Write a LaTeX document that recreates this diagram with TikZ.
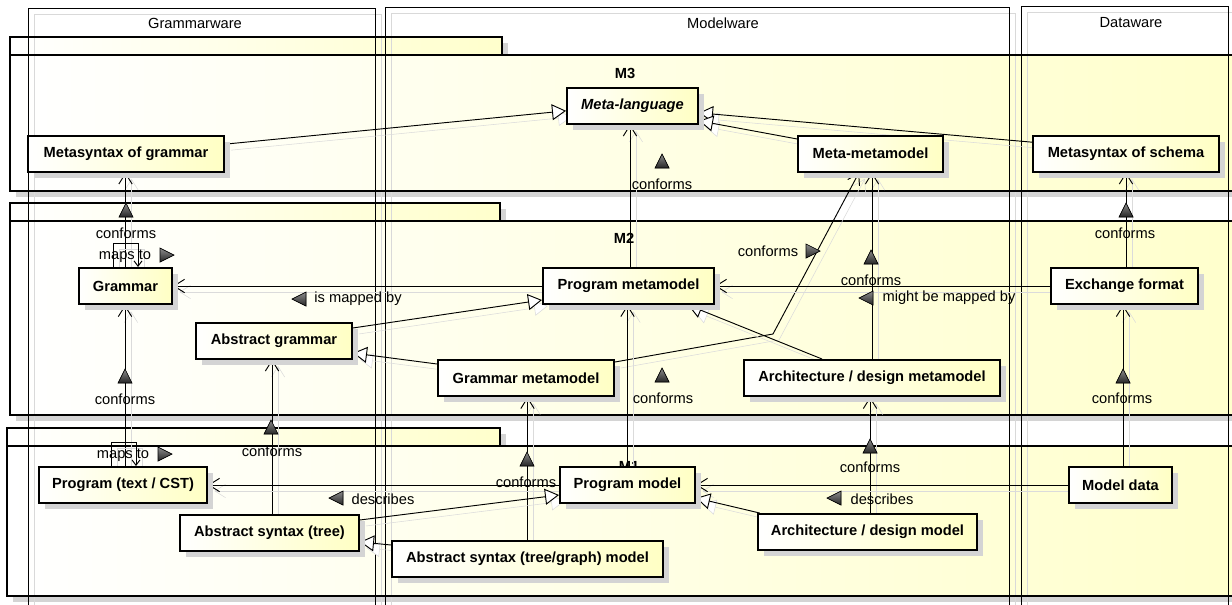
\documentclass[tikz,border=0pt]{standalone}
\usepackage{fontspec}
\setmainfont{Liberation Sans}
\usetikzlibrary{arrows.meta,shadows}
\definecolor{boxyel}{RGB}{255,255,196}
\definecolor{pkgyel}{RGB}{255,255,204}
\definecolor{shd}{RGB}{212,212,212}
\pgfdeclarelayer{back}
\pgfdeclarelayer{mid}
\pgfsetlayers{back,mid,main}
\begin{document}
\begin{tikzpicture}[x=0.75pt,y=-0.75pt,
  txt/.style={font=\fontsize{11}{13}\selectfont, inner sep=0pt},
  ttl/.style={font=\fontsize{11}{13}\selectfont\bfseries, inner sep=0pt},
  box/.style={draw=black, line width=1.5pt, left color=white, right color=boxyel,
     font=\fontsize{11}{13}\selectfont\bfseries, minimum height=27pt, inner sep=0pt,
     general shadow={fill=shd, shadow xshift=4.5pt, shadow yshift=-4.5pt}},
  con/.style={line width=0.7pt, preaction={draw=black!14, transform canvas={xshift=4.5pt,yshift=-4.5pt}}},
  dep/.style={con, -{Straight Barb[length=8pt,width=10pt]}},
  gen/.style={con, -{Triangle[open,length=10.5pt,width=12pt,fill=white]}},
  loopdep/.style={con, -{Straight Barb[length=4pt,width=6pt]}},
  pkg/.style={left color=white, right color=pkgyel},
  pkgborder/.style={draw=black, line width=1.5pt},
  part/.style={draw=black, line width=0.6pt},
  partshadow/.style={draw=black!15, line width=0.6pt},
  triup/.pic={\filldraw[draw=black, line width=0.5pt, top color=black!45, bottom color=black!85] (0,-8)--(7,6)--(-7,6)--cycle;},
  triright/.pic={\filldraw[draw=black, line width=0.5pt, top color=black!45, bottom color=black!85] (8,0)--(-6,-7)--(-6,7)--cycle;},
  trileft/.pic={\filldraw[draw=black, line width=0.5pt, top color=black!45, bottom color=black!85] (-8,0)--(6,-7)--(6,7)--cycle;},
]
\useasboundingbox (0,0) rectangle (1232,604);
\clip (0,0) rectangle (1232,604);

\begin{pgfonlayer}{back}
\fill[white] (0,0) rectangle (1232,604);
% package shadows
\fill[shd] (16,43) rectangle (508,61);
\fill[shd] (16,61) rectangle (1251,197);
\fill[shd] (16,209) rectangle (506,227);
\fill[shd] (16,227) rectangle (1251,421);
\fill[shd] (13,434) rectangle (506,452);
\fill[shd] (13,452) rectangle (1251,602);
% package fills
\shade[pkg] (10,37) rectangle (502,55);
\shade[pkg] (10,55) rectangle (1245,191);
\shade[pkg] (10,203) rectangle (500,221);
\shade[pkg] (10,221) rectangle (1245,415);
\shade[pkg] (7,428) rectangle (500,446);
\shade[pkg] (7,446) rectangle (1245,596);
% partitions
\draw[partshadow] (34,14) rectangle (381,630);
\draw[partshadow] (391,13) rectangle (1015,630);
\draw[partshadow] (1027,12) rectangle (1234,630);
\draw[part] (28,8) rectangle (375,620);
\draw[part] (385,7) rectangle (1009,620);
\draw[part] (1021,6) rectangle (1228,620);
\node[txt] (tgw) at (195,23) {Grammarware};
\node[txt] (tmw) at (723,23) {Modelware};
\node[txt] (tdw) at (1131,23) {Dataware};
% package borders
\draw[pkgborder] (10,37) rectangle (502,55);
\draw[pkgborder] (10,55) rectangle (1245,191);
\draw[pkgborder] (10,203) rectangle (500,221);
\draw[pkgborder] (10,221) rectangle (1245,415);
\draw[pkgborder] (7,428) rectangle (500,446);
\draw[pkgborder] (7,446) rectangle (1245,596);
\node[ttl] (m3) at (625,73) {M3};
\node[ttl] (m2) at (624,238) {M2};
\node[ttl] (m1) at (629,466) {M1};
\end{pgfonlayer}

% nodes
\node[box, minimum width=98.25pt, font=\fontsize{11}{13}\selectfont\bfseries\itshape] (ml) at (632.5,105.5) {Meta-language};
\node[box, minimum width=147pt] (msg) at (126,153.5) {Metasyntax of grammar};
\node[box, minimum width=108.75pt] (mmm) at (870.5,153.5) {Meta-metamodel};
\node[box, minimum width=139.5pt] (mss) at (1126,153.5) {Metasyntax of schema};
\node[box, minimum width=69.75pt] (gram) at (125.5,286) {Grammar};
\node[box, minimum width=128.25pt] (pm) at (628.5,286) {Program metamodel};
\node[box, minimum width=110.25pt] (ef) at (1124.5,286) {Exchange format};
\node[box, minimum width=117pt] (ag) at (274,340.5) {Abstract grammar};
\node[box, minimum width=132pt] (gm) at (526,378) {Grammar metamodel};
\node[box, minimum width=192pt] (adm) at (872,378) {Architecture / design metamodel};
\node[box, minimum width=126pt] (ptext) at (123,485) {Program (text / CST)};
\node[box, minimum width=101.25pt] (pmod) at (627.5,485) {Program model};
\node[box, minimum width=77.25pt] (md) at (1120.5,485) {Model data};
\node[box, minimum width=134.25pt] (ast) at (269.5,532.5) {Abstract syntax (tree)};
\node[box, minimum width=203.25pt] (asg) at (527.5,559) {Abstract syntax (tree/graph) model};
\node[box, minimum width=164.25pt] (admod) at (867.5,532) {Architecture / design model};

% connectors
\begin{pgfonlayer}{mid}
\draw[gen] ([yshift=7pt]msg.east) -- ([yshift=-4pt]ml.west);
\draw[gen] ([yshift=8.5pt]mss.west) -- ([yshift=-5.5pt]ml.east);
\draw[gen] ([yshift=10.9pt]mmm.west) -- ([yshift=-11.5pt]ml.east);
\draw[dep] ([xshift=1.1pt]pm.north) -- ([xshift=1.1pt]pm.north |- ml.south);
\draw[dep] (gram.north) -- (gram.north |- msg.south);
\draw[dep] ([xshift=1.1pt]ef.north) -- ([xshift=1.1pt]ef.north |- mss.south);
\draw[dep] (adm.north) -- (adm.north |- mmm.south);
\coordinate (gmbend) at (773,334);
\draw[dep] ([yshift=12pt]gm.east) -- (gmbend) -- ([xshift=-8.6pt]mmm.south);
\draw[dep] (pm.west) -- (gram.east);
\draw[dep] (ef.west) -- (pm.east);
\draw[gen] ([yshift=9.4pt]ag.east) -- ([yshift=-10.5pt]pm.west);
\draw[gen] ([yshift=10.5pt]gm.west) -- ([yshift=-9.4pt]ag.east);
\draw[gen] ([xshift=-37.5pt]adm.north) -- ([xshift=44.6pt]pm.south);
\draw[dep] (pmod.north) -- (pmod.north |- pm.south);
\draw[dep] ([xshift=1.5pt]ptext.north) -- ([xshift=1.5pt]ptext.north |- gram.south);
\draw[dep] ([xshift=1.9pt]ast.north) -- ([xshift=1.9pt]ast.north |- ag.south);
\draw[dep] (asg.north) -- (asg.north |- gm.south);
\draw[dep] ([xshift=1.9pt]admod.north) -- ([xshift=1.9pt]admod.north |- adm.south);
\draw[dep] ([xshift=1.9pt]md.north) -- ([xshift=1.9pt]md.north |- ef.south);
\draw[dep] (pmod.west) -- (ptext.east);
\draw[dep] (md.west) -- (pmod.east);
\draw[gen] ([yshift=9.4pt]ast.east) -- ([yshift=-7.5pt]pmod.west);
\draw[gen] ([yshift=10.5pt]asg.west) -- ([yshift=-7.1pt]ast.east);
\draw[gen] ([xshift=2pt]admod.north west) -- ([yshift=-9.75pt]pmod.east);
\draw[loopdep] ([xshift=-9.4pt]gram.north) -- ++(0,-24) -| ([xshift=9.4pt]gram.north);
\draw[loopdep] ([xshift=-9pt]ptext.north) -- ++(0,-24) -| ([xshift=9.75pt]ptext.north);
\end{pgfonlayer}

% labels
\pic at (662,162) {triup}; \node[txt] (lc1) at (662,184) {conforms};
\pic at (126,211) {triup}; \node[txt] (lc2) at (126,233) {conforms};
\pic at (1126,211) {triup}; \node[txt] (lc3) at (1125,233) {conforms};
\pic at (871,258) {triup}; \node[txt] (lc4) at (871,280) {conforms};
\node[txt] (lc5) at (768,251) {conforms}; \pic at (812,251) {triright};
\pic at (300,299) {trileft}; \node[txt] (lmap) at (358,299) {is mapped by};
\pic at (867,298) {trileft}; \node[txt] (lmight) at (949,298) {might be mapped by};
\pic at (662,376) {triup}; \node[txt] (lc6) at (663,398) {conforms};
\pic at (125,377) {triup}; \node[txt] (lc7) at (125,399) {conforms};
\pic at (271,428) {triup}; \node[txt] (lc8) at (272,451) {conforms};
\pic at (527,460) {triup}; \node[txt] (lc9) at (526,482) {conforms};
\pic at (870,447) {triup}; \node[txt] (lc10) at (870,467) {conforms};
\pic at (1123,377) {triup}; \node[txt] (lc11) at (1122,398) {conforms};
\pic at (337,498) {trileft}; \node[txt] (ldesc1) at (383,499) {describes};
\pic at (835,498) {trileft}; \node[txt] (ldesc2) at (882,499) {describes};
\node[txt] (lmaps1) at (125,256) {maps to}; \pic at (166,255) {triright};
\node[txt] (lmaps2) at (123,455) {maps to}; \pic at (164,454) {triright};
\end{tikzpicture}
\end{document}
